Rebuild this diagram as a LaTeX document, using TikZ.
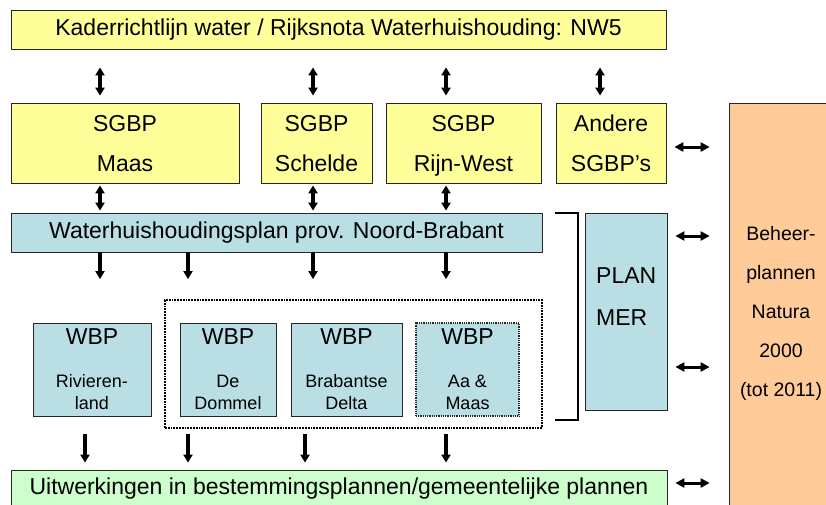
\documentclass[tikz,border=0pt]{standalone}
\usepackage{fontspec}
\setmainfont{Liberation Sans}
\usetikzlibrary{arrows.meta,positioning,calc}
\definecolor{kadercolor}{RGB}{255,255,153}
\definecolor{provcolor}{RGB}{185,223,228}
\definecolor{naturacolor}{RGB}{255,204,153}
\definecolor{gemcolor}{RGB}{204,255,204}

\begin{document}
\begin{tikzpicture}[x=1pt,y=-1pt,
  box/.style={rectangle, draw=black!85, line width=0.8pt, inner sep=0pt, align=center, font=\fontsize{23}{40}\selectfont},
  yellowbox/.style={box, fill=kadercolor},
  sgbpbox/.style={yellowbox, minimum height=80pt, text depth=0pt},
  bluebox/.style={box, fill=provcolor},
  wbpbox/.style={bluebox, minimum height=93pt, font=\fontsize{18}{22}\selectfont},
  updown/.style={{Triangle[length=8pt,width=9pt]}-{Triangle[length=8pt,width=9pt]}, line width=3.2pt},
  down/.style={-{Triangle[length=8pt,width=9pt]}, line width=3.2pt},
  leftright/.style={{Triangle[length=9pt,width=9pt]}-{Triangle[length=9pt,width=9pt]}, line width=3pt}
]
\useasboundingbox (0,0) rectangle (826,504);
\clip (0,0) rectangle (826,504);

% Top and SGBP row
\node[yellowbox, minimum width=655pt, minimum height=39pt] (kader) at (338.5,29.5) {Kaderrichtlijn water / Rijksnota Waterhuishouding: NW5};
\node[sgbpbox, minimum width=228pt] (sgbpmaas) at (125,143) {SGBP\\Maas};
\node[sgbpbox, minimum width=111pt] (sgbpschelde) at (316.5,143) {SGBP\\Schelde};
\node[sgbpbox, minimum width=155pt] (sgbprijn) at (463.5,143) {SGBP\\Rijn-West};
\node[sgbpbox, minimum width=110pt] (andere) at (611,143) {Andere\\SGBP’s};

% Natura 2000
\node[box, fill=naturacolor, minimum width=102pt, minimum height=420pt] (natura) at (780,313) {};
\node[align=center, inner sep=0pt, font=\fontsize{19.5}{39}\selectfont] (naturalbl) at (781,313) {Beheer-\\plannen\\Natura\\2000\\(tot 2011)};

% Province
\node[bluebox, minimum width=531pt, minimum height=39pt] (whp) at (276.5,232.5) {Waterhuishoudingsplan prov. Noord-Brabant};
\node[bluebox, minimum width=82pt, minimum height=197pt] (planmer) at (626,311.5) {};
\node[anchor=west, align=left, inner sep=0pt, font=\fontsize{23}{42}\selectfont] (planlbl) at (596,297) {PLAN\\MER};

% Waterbeheerplannen
\node[draw, densely dotted, line width=1.8pt, inner sep=0pt, minimum width=377pt, minimum height=128pt] (cluster) at (353.5,364) {};
\node[wbpbox, minimum width=118pt] (wbpriv) at (92,369.5) {{\fontsize{23}{23}\selectfont WBP}\\[21pt]Rivieren-\\land};
\node[wbpbox, minimum width=96pt] (wbpdommel) at (228,369.5) {{\fontsize{23}{23}\selectfont WBP}\\[21pt]De\\Dommel};
\node[wbpbox, minimum width=111pt] (wbpdelta) at (346.5,369.5) {{\fontsize{23}{23}\selectfont WBP}\\[21pt]Brabantse\\Delta};
\node[wbpbox, densely dotted, line width=1.1pt, minimum width=103pt] (wbpaamaas) at (467.5,369.5) {{\fontsize{23}{23}\selectfont WBP}\\[21pt]Aa \&\\Maas};

% Bottom
\node[box, fill=gemcolor, minimum width=656pt, minimum height=38pt] (uitw) at (339,489) {Uitwerkingen in bestemmingsplannen/gemeentelijke plannen};

% Bracket
\draw[line width=2.8pt] (555,213) -- (578,213) -- (578,420) -- (555,420);

% Connections
\foreach \x in {100,313,446,600}
  \draw[updown, shorten <=18pt, shorten >=7pt] (kader.south -| \x,0) -- (sgbpmaas.north -| \x,0);
\foreach \x in {100,313,446}
  \draw[updown, shorten <=2pt, shorten >=2pt] (sgbpmaas.south -| \x,0) -- (whp.north -| \x,0);
\foreach \x in {100,188,313,446}
  \draw[down, shorten >=20pt] (whp.south -| \x,0) -- (cluster.north -| \x,0);
\foreach \x in {85,188,305,446}
  \draw[down, shorten <=5pt, shorten >=7pt] (cluster.south -| \x,0) -- (uitw.north -| \x,0);

\draw[leftright, shorten <=8pt, shorten >=19pt] (andere.east |- 0,147) -- (natura.west |- 0,147);
\foreach \y in {236,367}
  \draw[leftright, shorten <=8pt, shorten >=19pt] (planmer.east |- 0,\y) -- (natura.west |- 0,\y);
\draw[leftright, shorten <=8pt, shorten >=19pt] (uitw.east |- 0,483) -- (natura.west |- 0,483);

\end{tikzpicture}
\end{document}
